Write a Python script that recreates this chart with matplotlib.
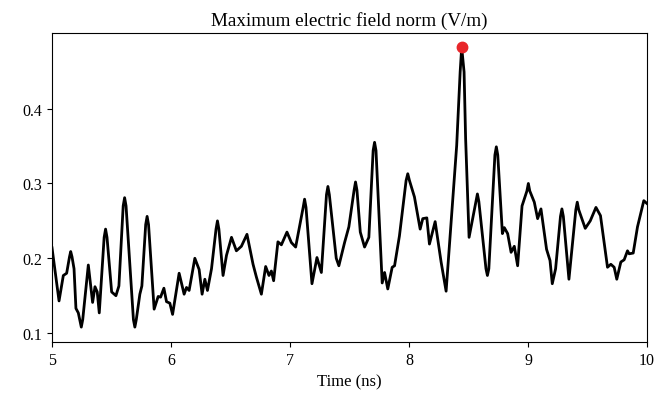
import numpy as np
import matplotlib
matplotlib.use("Agg")
import matplotlib.pyplot as plt

plt.rcParams['font.family'] = ['Liberation Serif', 'DejaVu Serif']

# time (ns) and max |E| (V/m)
time_ns = [5.000, 5.059, 5.095, 5.123, 5.147, 5.157, 5.168, 5.185, 5.201, 5.221,
           5.246, 5.258, 5.305, 5.341, 5.361, 5.380, 5.397, 5.438, 5.450, 5.462,
           5.501, 5.537, 5.562, 5.598, 5.610, 5.622, 5.684, 5.696, 5.708, 5.738,
           5.755, 5.787, 5.799, 5.811, 5.858, 5.892, 5.912, 5.940, 5.962, 5.990,
           6.013, 6.068, 6.110, 6.130, 6.152, 6.200, 6.236, 6.261, 6.284, 6.306,
           6.340, 6.378, 6.390, 6.402, 6.437, 6.466, 6.508, 6.549, 6.591, 6.638,
           6.689, 6.717, 6.759, 6.795, 6.823, 6.843, 6.862, 6.898, 6.927, 6.974,
           7.011, 7.047, 7.110, 7.122, 7.134, 7.184, 7.226, 7.263, 7.306, 7.318,
           7.330, 7.388, 7.410, 7.458, 7.494, 7.538, 7.550, 7.562, 7.590, 7.626,
           7.662, 7.698, 7.710, 7.722, 7.774, 7.794, 7.821, 7.858, 7.878, 7.919,
           7.975, 7.989, 8.003, 8.045, 8.093, 8.115, 8.149, 8.171, 8.219, 8.269,
           8.311, 8.373, 8.400, 8.429, 8.442, 8.462, 8.475, 8.504, 8.562, 8.574,
           8.586, 8.646, 8.658, 8.670, 8.721, 8.733, 8.745, 8.784, 8.800, 8.828,
           8.857, 8.884, 8.912, 8.949, 8.990, 9.002, 9.014, 9.052, 9.080, 9.108,
           9.155, 9.184, 9.203, 9.231, 9.272, 9.284, 9.296, 9.343, 9.401, 9.413,
           9.425, 9.480, 9.522, 9.570, 9.608, 9.667, 9.695, 9.723, 9.745, 9.779,
           9.807, 9.835, 9.849, 9.883, 9.919, 9.972, 10.000]
e_max = [0.214, 0.143, 0.177, 0.180, 0.202, 0.209, 0.202, 0.186, 0.133, 0.127,
         0.108, 0.118, 0.191, 0.141, 0.162, 0.155, 0.127, 0.228, 0.239, 0.228,
         0.155, 0.150, 0.163, 0.270, 0.281, 0.270, 0.118, 0.108, 0.118, 0.152,
         0.163, 0.245, 0.256, 0.245, 0.132, 0.149, 0.148, 0.160, 0.142, 0.140,
         0.125, 0.180, 0.152, 0.161, 0.157, 0.200, 0.185, 0.152, 0.172, 0.157,
         0.186, 0.239, 0.250, 0.239, 0.177, 0.204, 0.228, 0.210, 0.216, 0.232,
         0.192, 0.175, 0.152, 0.189, 0.177, 0.183, 0.170, 0.222, 0.218, 0.235,
         0.221, 0.215, 0.268, 0.279, 0.268, 0.166, 0.201, 0.181, 0.285, 0.296,
         0.285, 0.200, 0.190, 0.221, 0.242, 0.291, 0.302, 0.291, 0.235, 0.215,
         0.228, 0.344, 0.355, 0.344, 0.167, 0.181, 0.159, 0.188, 0.190, 0.230,
         0.304, 0.313, 0.304, 0.282, 0.239, 0.253, 0.254, 0.219, 0.249, 0.195,
         0.156, 0.293, 0.351, 0.449, 0.482, 0.449, 0.360, 0.228, 0.276, 0.286,
         0.276, 0.186, 0.177, 0.186, 0.338, 0.349, 0.338, 0.233, 0.241, 0.233,
         0.208, 0.216, 0.190, 0.270, 0.290, 0.300, 0.290, 0.275, 0.253, 0.266,
         0.212, 0.197, 0.166, 0.186, 0.256, 0.266, 0.256, 0.172, 0.265, 0.275,
         0.265, 0.240, 0.250, 0.268, 0.257, 0.188, 0.192, 0.188, 0.172, 0.195,
         0.198, 0.210, 0.206, 0.207, 0.242, 0.277, 0.273]

t = np.array(time_ns)
e = np.array(e_max)
i_max = np.argmax(e)

fig = plt.figure(figsize=(6.72, 4.06), dpi=100)
ax = fig.add_axes([0.0774, 0.155, 0.8856, 0.761])
ax.plot(t, e, color='black', lw=2.0, solid_joinstyle='round')
ax.plot(t[i_max], e[i_max], 'o', color='#e8262a', ms=7.5)

ax.set_xlim(5, 10)
ax.set_ylim(0.088, 0.501)
ax.set_xticks([5, 6, 7, 8, 9, 10])
ax.set_yticks([0.1, 0.2, 0.3, 0.4])
ax.tick_params(labelsize=11.5)
ax.set_xlabel('Time (ns)', fontsize=12)
ax.set_title('Maximum electric field norm (V/m)', fontsize=13.8)

fig.savefig('out.png', dpi=100)
